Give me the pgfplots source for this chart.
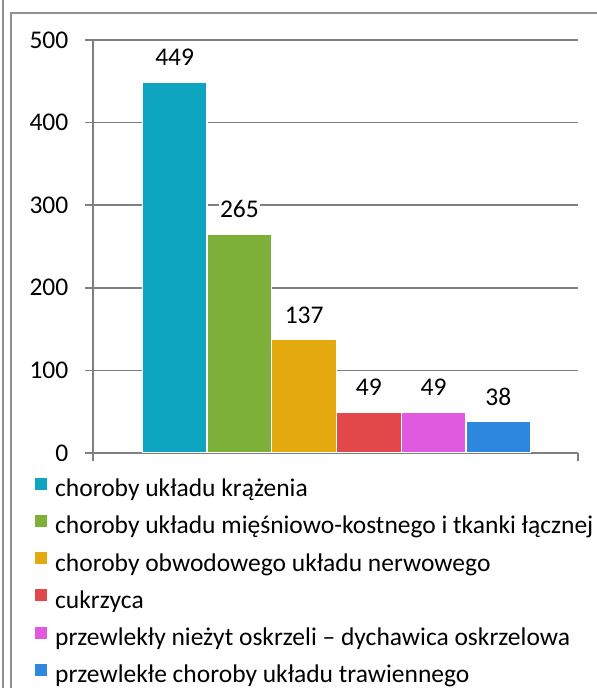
\documentclass[border=0pt]{standalone}
\usepackage{pgfplots}
\pgfplotsset{compat=1.18}
\usepackage{fontspec}
\setmainfont{Carlito}
\definecolor{c1}{RGB}{14,165,192}
\definecolor{c2}{RGB}{125,176,56}
\definecolor{c3}{RGB}{228,169,14}
\definecolor{c4}{RGB}{226,72,74}
\definecolor{c5}{RGB}{224,90,224}
\definecolor{c6}{RGB}{46,136,224}
\definecolor{gl}{RGB}{128,128,128}
\definecolor{fr}{RGB}{145,145,145}
\begin{document}
\fontsize{25.5bp}{30bp}\selectfont
\begin{tikzpicture}
\useasboundingbox (0,0) rectangle (597bp,688bp);
\draw[fr, line width=1.4bp] (3bp,0) -- (3bp,688bp);
\draw[fr, line width=1.4bp] (11bp,0) -- (11bp,675bp) -- (597bp,675bp);
\begin{axis}[
  at={(93bp,235bp)}, anchor=south west,
  scale only axis, width=485bp, height=413bp,
  xmin=-0.262, xmax=7.23, ymin=0, ymax=500,
  ytick={0,100,200,300,400,500},
  xtick={-0.262,7.23}, xticklabels={},
  axis x line*=bottom, axis y line*=left,
  axis line style={gl, line width=1.5bp, -},
  tick align=outside, major tick length=8bp,
  every tick/.style={gl, line width=1.5bp},
  ymajorgrids, grid style={gl, line width=1.5bp},
  /pgf/number format/assume math mode=true,
  yticklabel style={font=\fontsize{25.5bp}{30bp}\selectfont, xshift=-8bp},
  ybar, bar width=1, bar shift=0pt,
  nodes near coords,
  nodes near coords style={font=\fontsize{25.5bp}{30bp}\selectfont, fill=white, inner sep=1bp, anchor=center, yshift=25bp, text=black},
  legend style={at={(-0.1196,-0.059)}, anchor=north west, draw=none, fill=none,
    font=\fontsize{25.5bp}{30bp}\selectfont, row sep=14.5bp, inner sep=0pt,
    nodes={inner sep=0pt}, column sep=8bp},
  legend cell align=left,
  legend image code/.code={\fill[#1,draw=none] (0bp,0bp) rectangle (12bp,12bp);},
]
\addplot[fill=c1, draw=white, line width=1.2bp] coordinates {(1,449)};
\addplot[fill=c2, draw=white, line width=1.2bp] coordinates {(2,265)};
\addplot[fill=c3, draw=white, line width=1.2bp] coordinates {(3,137)};
\addplot[fill=c4, draw=white, line width=1.2bp] coordinates {(4,49)};
\addplot[fill=c5, draw=white, line width=1.2bp] coordinates {(5,49)};
\addplot[fill=c6, draw=white, line width=1.2bp] coordinates {(6,38)};
\legend{choroby układu krążenia,
choroby układu mięśniowo-kostnego i tkanki łącznej,
choroby obwodowego układu nerwowego,
cukrzyca,
przewlekły nieżyt oskrzeli – dychawica oskrzelowa,
przewlekłe choroby układu trawiennego}
\end{axis}
\end{tikzpicture}
\end{document}
